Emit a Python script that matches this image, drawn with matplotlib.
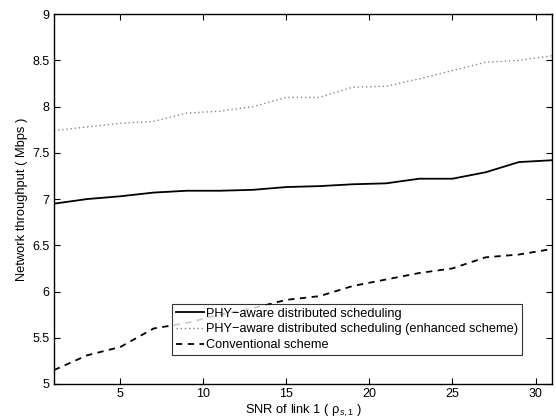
import matplotlib
matplotlib.use("Agg")
import matplotlib.pyplot as plt
import numpy as np

plt.rcParams['font.family'] = ['Liberation Sans', 'DejaVu Sans']
plt.rcParams['mathtext.fontset'] = 'custom'
plt.rcParams['mathtext.rm'] = 'Liberation Sans'
plt.rcParams['mathtext.it'] = 'Liberation Sans:italic'

snr = [1, 3, 5, 7, 9, 11, 13, 15, 17, 19, 21, 23, 25, 27, 29, 31]

phy_aware = [6.95, 7.00, 7.03, 7.07, 7.09, 7.09, 7.10, 7.13, 7.14, 7.16, 7.17,
             7.22, 7.22, 7.29, 7.40, 7.42]
phy_enhanced = [7.74, 7.78, 7.82, 7.84, 7.93, 7.95, 8.00, 8.10, 8.10, 8.21, 8.22,
                8.30, 8.39, 8.48, 8.50, 8.55]
conventional = [5.15, 5.31, 5.40, 5.60, 5.66, 5.75, 5.82, 5.91, 5.95, 6.06, 6.13,
                6.20, 6.25, 6.37, 6.40, 6.46]

labels = ['PHY\u2212aware distributed scheduling',
          'PHY\u2212aware distributed scheduling (enhanced scheme)',
          'Conventional scheme']

fig = plt.figure(figsize=(5.56, 4.16), dpi=100)
ax = fig.add_axes([0.097, 0.077, 0.896, 0.889])

ax.plot(snr, phy_aware, color='black', linewidth=1.3, label=labels[0])
ax.plot(snr, phy_enhanced, color='#888888', linestyle=(0, (1, 2)), linewidth=1.0,
        label=labels[1])
ax.plot(snr, conventional, color='black', linestyle=(0, (3.5, 3)), linewidth=1.3,
        label=labels[2])

ax.set_xlim(1, 31)
ax.set_ylim(5, 9)
ax.set_xticks([5, 10, 15, 20, 25, 30])
ax.set_yticks([5, 5.5, 6, 6.5, 7, 7.5, 8, 8.5, 9])
ax.set_yticklabels(['5', '5.5', '6', '6.5', '7', '7.5', '8', '8.5', '9'])
ax.tick_params(direction='in', top=True, right=True, labelsize=9, length=4,
               width=0.8, pad=3)
for s in ax.spines.values():
    s.set_linewidth(1.0)

ax.set_ylabel('Network throughput ( Mbps )', fontsize=9.3, labelpad=3)
ax.set_xlabel('SNR of link 1 ( \u03c1$_{s,1}$ )', fontsize=9.3, labelpad=0)
ax.xaxis.set_label_coords(0.5, -0.05)

leg = ax.legend(loc='lower left', bbox_to_anchor=(0.237, 0.078), fontsize=9.2,
                frameon=True, fancybox=False, edgecolor='black',
                borderpad=0.3, labelspacing=0.3, handlelength=2.2,
                handletextpad=0.2, borderaxespad=0)
leg.get_frame().set_linewidth(0.8)

fig.savefig('out.png', dpi=100)
